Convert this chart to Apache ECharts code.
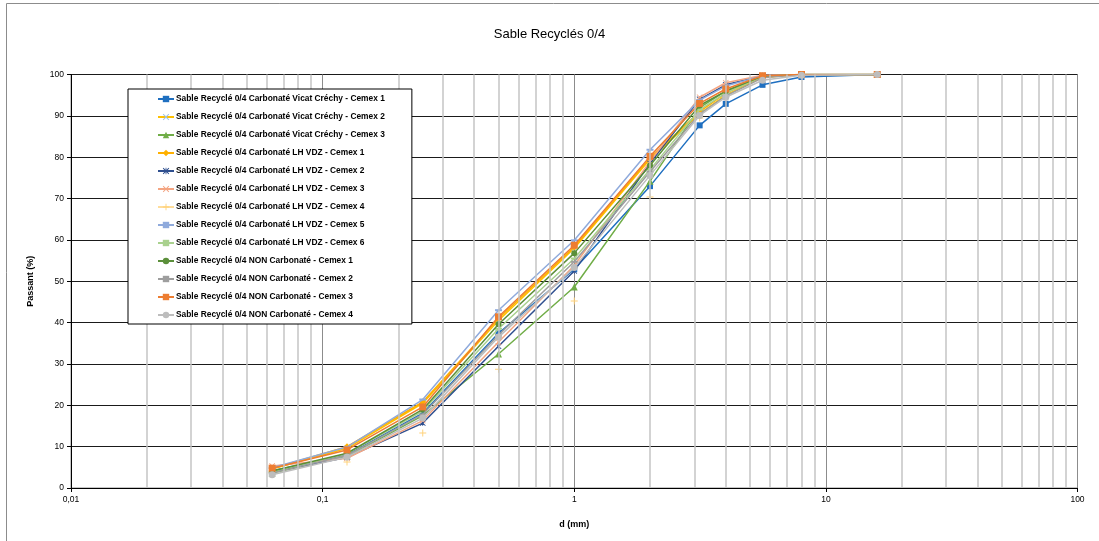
<!DOCTYPE html>
<html>
<head>
<meta charset="utf-8">
<script src="https://cdn.jsdelivr.net/npm/echarts@6/dist/echarts.min.js"></script>
<style>
  html, body { margin: 0; padding: 0; background: #fff; }
  #chart { width: 1099px; height: 541px; }
</style>
</head>
<body>
<div id="chart"></div>
<script>
// Sieve sizes (mm) and cumulative passing (%) for each recycled sand sample
const sizes = [0.063, 0.125, 0.25, 0.5, 1, 2, 3.15, 4, 5.6, 8, 16];

const vicat1 = [4.2, 8.0, 18.1, 37.4, 52.9, 73.0, 87.7, 92.9, 97.5, 99.4, 100];
const vicat2 = [4.6, 9.6, 20.5, 40.5, 58.0, 79.5, 90.5, 95.0, 99.3, 100, 100];
const vicat3 = [3.6, 7.6, 17.5, 32.4, 48.6, 74.2, 92.0, 96.0, 99.6, 100, 100];
const lh1 = [4.7, 10.0, 20.8, 41.0, 58.3, 79.8, 91.0, 95.5, 99.4, 100, 100];
const lh2 = [4.0, 7.4, 15.7, 34.3, 52.5, 78.5, 94.0, 97.5, 99.7, 100, 100];
const lh3 = [5.3, 7.2, 16.3, 35.3, 53.8, 79.0, 94.5, 98.0, 99.8, 100, 100];
const lh4 = [3.8, 6.3, 13.3, 28.7, 45.2, 70.4, 89.5, 95.0, 99.5, 100, 100];
const lh5 = [4.9, 9.9, 21.4, 43.0, 59.9, 81.8, 93.8, 97.2, 99.7, 100, 100];
const lh6 = [3.9, 8.3, 18.6, 38.5, 55.5, 77.0, 91.5, 95.5, 99.5, 100, 100];
const non1 = [4.1, 8.4, 19.0, 39.6, 56.8, 78.0, 92.5, 96.0, 99.6, 100, 100];
const non2 = [3.6, 7.9, 17.8, 37.0, 54.7, 76.5, 90.5, 94.8, 99.2, 100, 100];
const non3 = [4.8, 9.2, 19.6, 41.4, 58.7, 80.2, 93.0, 96.5, 99.7, 100, 100];
const non4 = [3.2, 7.5, 16.9, 36.5, 53.3, 75.6, 90.1, 94.5, 98.6, 99.8, 100];

const seriesNames = [
  'Sable Recyclé 0/4 Carbonaté Vicat Créchy - Cemex 1',
  'Sable Recyclé 0/4 Carbonaté Vicat Créchy - Cemex 2',
  'Sable Recyclé 0/4 Carbonaté Vicat Créchy - Cemex 3',
  'Sable Recyclé 0/4 Carbonaté LH VDZ - Cemex 1',
  'Sable Recyclé 0/4 Carbonaté LH VDZ - Cemex 2',
  'Sable Recyclé 0/4 Carbonaté LH VDZ - Cemex 3',
  'Sable Recyclé 0/4 Carbonaté LH VDZ - Cemex 4',
  'Sable Recyclé 0/4 Carbonaté LH VDZ - Cemex 5',
  'Sable Recyclé 0/4 Carbonaté LH VDZ - Cemex 6',
  'Sable Recyclé 0/4 NON Carbonaté - Cemex 1',
  'Sable Recyclé 0/4 NON Carbonaté - Cemex 2',
  'Sable Recyclé 0/4 NON Carbonaté - Cemex 3',
  'Sable Recyclé 0/4 NON Carbonaté - Cemex 4'
];
const seriesValues = [vicat1, vicat2, vicat3, lh1, lh2, lh3, lh4, lh5, lh6, non1, non2, non3, non4];

// Intermediate (2..9) lines inside each decade of the log axis
const minorTicks = [];
[0.01, 0.1, 1, 10].forEach(function (d) {
  for (let k = 2; k <= 9; k++) minorTicks.push(+(d * k).toPrecision(3));
});

// Marker shapes
const X_PATH = 'path://M0,1L1,0L5,4L9,0L10,1L6,5L10,9L9,10L5,6L1,10L0,9L4,5Z';
const STAR_PATH = 'path://M0,1L1,0L5,4L9,0L10,1L6,5L10,9L9,10L5,6L1,10L0,9L4,5Z M4.4,0L5.6,0L5.6,10L4.4,10Z';
const PLUS_PATH = 'path://M4.3,0L5.7,0L5.7,4.3L10,4.3L10,5.7L5.7,5.7L5.7,10L4.3,10L4.3,5.7L0,5.7L0,4.3L4.3,4.3Z';
const DASH_PATH = 'path://M0,0L10,0L10,2L0,2Z';

const styles = [
  { line: '#1F6FC0', mark: '#1F6FC0', symbol: 'rect', size: 6 },
  { line: '#FFC000', mark: '#9DC3E6', symbol: X_PATH, size: 6 },
  { line: '#70AD47', mark: '#70AD47', symbol: 'triangle', size: 7 },
  { line: '#FFB000', mark: '#FFB000', symbol: 'diamond', size: 7 },
  { line: '#2F4F8F', mark: '#2F4F8F', symbol: STAR_PATH, size: 6 },
  { line: '#F4A582', mark: '#F4A582', symbol: X_PATH, size: 6 },
  { line: '#FFD27A', mark: '#FFD27A', symbol: PLUS_PATH, size: 7, noLine: true },
  { line: '#8FAADC', mark: '#8FAADC', symbol: DASH_PATH, size: [7, 2] },
  { line: '#A9D18E', mark: '#A9D18E', symbol: DASH_PATH, size: [7, 2] },
  { line: '#5B8F3A', mark: '#5B8F3A', symbol: 'circle', size: 6 },
  { line: '#9E9E9E', mark: '#9E9E9E', symbol: DASH_PATH, size: [7, 2] },
  { line: '#ED7D31', mark: '#ED7D31', symbol: 'rect', size: 7 },
  { line: '#BDBDBD', mark: '#BDBDBD', symbol: 'circle', size: 7 }
];

const FONT = 'Liberation Sans, Arial, sans-serif';

const series = seriesNames.map(function (name, i) {
  const st = styles[i];
  return {
    name: name,
    type: 'line',
    data: sizes.map(function (s, j) { return [s, seriesValues[i][j]]; }),
    symbol: st.symbol,
    symbolSize: st.size,
    showAllSymbol: true,
    lineStyle: { color: st.line, width: 1.5, opacity: st.noLine ? 0 : 1 },
    itemStyle: { color: st.mark },
    emphasis: { disabled: true },
    z: 3 + i * 0.01,
    animation: false
  };
});

// Light vertical lines for the intermediate values of each decade
series.push({
  name: 'minor-grid',
  type: 'line',
  data: [],
  silent: true,
  animation: false,
  markLine: {
    silent: true,
    symbol: 'none',
    animation: false,
    label: { show: false },
    lineStyle: { color: '#C4C4C4', width: 1.5, type: 'solid' },
    data: minorTicks.map(function (v) { return { xAxis: v }; })
  },
  z: 1
});

const legendData = seriesNames.map(function (name, i) {
  const item = { name: name };
  if (styles[i].noLine) item.lineStyle = { opacity: 1, color: styles[i].line, width: 1.5 };
  return item;
});

const chart = echarts.init(document.getElementById('chart'), null, { renderer: 'canvas' });
chart.setOption({
  backgroundColor: '#ffffff',
  animation: false,
  title: {
    text: 'Sable Recyclés 0/4',
    left: 'center',
    top: 23,
    textStyle: { fontFamily: FONT, fontSize: 13, fontWeight: 'normal', color: '#000' }
  },
  graphic: [{
    type: 'rect',
    shape: { x: 6.5, y: 3.5, width: 1200, height: 700 },
    style: { fill: 'none', stroke: '#8C8C8C', lineWidth: 1 },
    silent: true,
    z: 0
  }],
  legend: {
    orient: 'vertical',
    left: 128,
    top: 89,
    padding: [6, 27, 5, 29],
    itemGap: 10,
    itemWidth: 16,
    itemHeight: 8,
    backgroundColor: '#fff',
    borderColor: '#000',
    borderWidth: 1,
    borderRadius: 0,
    selectedMode: false,
    data: legendData,
    textStyle: { fontFamily: FONT, fontSize: 8.4, fontWeight: 'bold', color: '#000', padding: [0, 0, 0, -3] },
    z: 10
  },
  grid: {
    left: 71,
    right: 21.5,
    top: 74.5,
    bottom: 53,
    show: true,
    borderColor: '#8C8C8C',
    borderWidth: 1,
    containLabel: false
  },
  xAxis: {
    type: 'log',
    logBase: 10,
    min: 0.01,
    max: 100,
    name: 'd (mm)',
    nameLocation: 'middle',
    nameGap: 32,
    nameTextStyle: { fontFamily: FONT, fontSize: 9, fontWeight: 'bold', color: '#000' },
    axisLine: { show: true, onZero: false, lineStyle: { color: '#000', width: 1 } },
    axisTick: { show: true, length: 4, lineStyle: { color: '#000' } },
    axisLabel: {
      margin: 7,
      fontFamily: FONT, fontSize: 8.5, color: '#000',
      formatter: function (v) { return String(+v.toPrecision(3)).replace('.', ','); }
    },
    splitLine: { show: true, lineStyle: { color: '#8C8C8C', width: 1 } }
  },
  yAxis: {
    type: 'value',
    min: 0,
    max: 100,
    interval: 10,
    name: 'Passant (%)',
    nameLocation: 'middle',
    nameGap: 36,
    nameTextStyle: { fontFamily: FONT, fontSize: 9, fontWeight: 'bold', color: '#000' },
    axisLine: { show: true, lineStyle: { color: '#000', width: 1 } },
    axisTick: { show: true, length: 4, lineStyle: { color: '#000' } },
    axisLabel: { margin: 7, fontFamily: FONT, fontSize: 8.5, color: '#000' },
    splitLine: { show: true, lineStyle: { color: '#1A1A1A', width: 1 } }
  },
  series: series
});
</script>
</body>
</html>
